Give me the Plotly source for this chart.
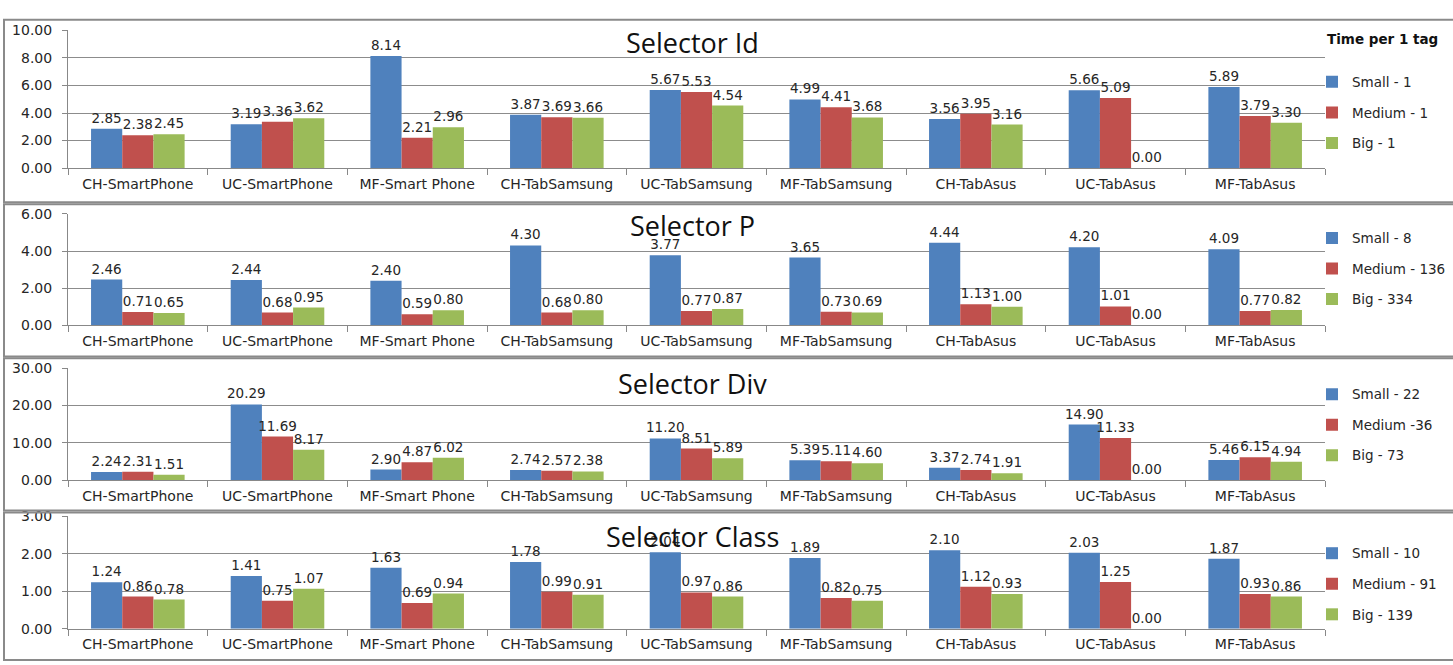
import plotly.graph_objects as go

categories = ["CH-SmartPhone", "UC-SmartPhone", "MF-Smart Phone", "CH-TabSamsung",
              "UC-TabSamsung", "MF-TabSamsung", "CH-TabAsus", "UC-TabAsus", "MF-TabAsus"]

titles = ["Selector Id", "Selector P", "Selector Div", "Selector Class"]

id_small = [2.85, 3.19, 8.14, 3.87, 5.67, 4.99, 3.56, 5.66, 5.89]
id_medium = [2.38, 3.36, 2.21, 3.69, 5.53, 4.41, 3.95, 5.09, 3.79]
id_big = [2.45, 3.62, 2.96, 3.66, 4.54, 3.68, 3.16, 0.00, 3.30]

p_small = [2.46, 2.44, 2.40, 4.30, 3.77, 3.65, 4.44, 4.20, 4.09]
p_medium = [0.71, 0.68, 0.59, 0.68, 0.77, 0.73, 1.13, 1.01, 0.77]
p_big = [0.65, 0.95, 0.80, 0.80, 0.87, 0.69, 1.00, 0.00, 0.82]

div_small = [2.24, 20.29, 2.90, 2.74, 11.20, 5.39, 3.37, 14.90, 5.46]
div_medium = [2.31, 11.69, 4.87, 2.57, 8.51, 5.11, 2.74, 11.33, 6.15]
div_big = [1.51, 8.17, 6.02, 2.38, 5.89, 4.60, 1.91, 0.00, 4.94]

class_small = [1.24, 1.41, 1.63, 1.78, 2.04, 1.89, 2.10, 2.03, 1.87]
class_medium = [0.86, 0.75, 0.69, 0.99, 0.97, 0.82, 1.12, 1.25, 0.93]
class_big = [0.78, 1.07, 0.94, 0.91, 0.86, 0.75, 0.93, 0.00, 0.86]

legend_names = [
    ["Small - 1", "Medium - 1", "Big - 1"],
    ["Small - 8", "Medium - 136", "Big - 334"],
    ["Small - 22", "Medium -36", "Big - 73"],
    ["Small - 10", "Medium - 91", "Big - 139"],
]
y_max = [10, 6, 30, 3]
y_dtick = [2, 2, 10, 1]

series = [
    [id_small, id_medium, id_big],
    [p_small, p_medium, p_big],
    [div_small, div_medium, div_big],
    [class_small, class_medium, class_big],
]
colors = ["#4F81BD", "#C0504D", "#9BBB59"]

W, H = 1453, 665
FONT = "DejaVu Sans"
TXT = "#262626"

def py(px):
    return 1 - px / H

def pxx(px):
    return px / W

# plot areas (top px, bottom px)
plot_rows = [(23, 164), (211, 325), (369, 484), (521, 636)]
frames = [(12, 199), (201, 357), (359, 515), (517, 668)]
title_y = [35, 223, 385, 542]
legend_top = [60, 220, 380, 543]
x_dom = [pxx(68), pxx(1325)]

fig = go.Figure()
layout = dict(
    width=W, height=H,
    margin=dict(l=0, r=0, t=0, b=0),
    paper_bgcolor="white", plot_bgcolor="white",
    barmode="group", bargap=0.33, bargroupgap=0,
    font=dict(family=FONT, size=13, color=TXT),
    showlegend=True,
)

shapes = []
annotations = []

for i in range(4):
    ax = "" if i == 0 else str(i + 1)
    leg = "legend" if i == 0 else "legend" + str(i + 1)
    for j in range(3):
        fig.add_trace(go.Bar(
            x=categories, y=series[i][j], name=legend_names[i][j],
            marker=dict(color=colors[j], line=dict(width=0)),
            text=[f"{v:.2f}" for v in series[i][j]],
            textposition="outside", cliponaxis=False, constraintext="none",
            textfont=dict(family=FONT, size=13.5, color=TXT),
            xaxis="x" + ax, yaxis="y" + ax,
            legend=leg, legendgroup=f"g{i}{j}",
        ))
    top, bot = plot_rows[i]
    layout["xaxis" + ax] = dict(
        domain=x_dom, anchor="y" + ax, type="category",
        showline=True, linecolor="#888888", linewidth=1,
        ticks="outside", ticklen=6, tickcolor="#888888", tickson="boundaries",
        ticklabelstandoff=3,
        tickfont=dict(family=FONT, size=14, color=TXT),
        showgrid=False, fixedrange=True,
    )
    layout["yaxis" + ax] = dict(
        domain=[py(bot), py(top)], anchor="x" + ax,
        range=[0, y_max[i]], dtick=y_dtick[i], tickformat=".2f",
        showline=True, linecolor="#888888", linewidth=1,
        ticks="outside", ticklen=5, tickcolor="#888888",
        ticklabelstandoff=7,
        showgrid=True, gridcolor="#8c8c8c", gridwidth=1,
        zeroline=False,
        tickfont=dict(family=FONT, size=14, color=TXT),
        fixedrange=True,
    )
    layout[leg] = dict(
        x=pxx(1312), y=py(legend_top[i]), xanchor="left", yanchor="top",
        bgcolor="rgba(0,0,0,0)", tracegroupgap=10,
        font=dict(family=FONT, size=13.5, color=TXT),
        itemwidth=30,
    )
    ftop, fbot = frames[i]
    shapes.append(dict(
        type="rect", xref="paper", yref="paper",
        x0=pxx(4), x1=pxx(1460), y0=py(fbot), y1=py(ftop),
        line=dict(color="#8a8a8a", width=2), fillcolor="rgba(0,0,0,0)",
    ))
    annotations.append(dict(
        text=titles[i], xref="paper", yref="paper",
        x=pxx(692), y=py(title_y[i]), xanchor="center", yanchor="middle",
        showarrow=False, font=dict(family="Open Sans", size=27, color="#111111"),
    ))

annotations.append(dict(
    text="<b>Time per 1 tag</b>", xref="paper", yref="paper",
    x=pxx(1325), y=py(32), xanchor="left", yanchor="middle",
    showarrow=False, font=dict(family=FONT, size=13.5, color="#111111"),
))

layout["shapes"] = shapes
layout["annotations"] = annotations
fig.update_layout(**layout)
fig.write_html("out.html")
